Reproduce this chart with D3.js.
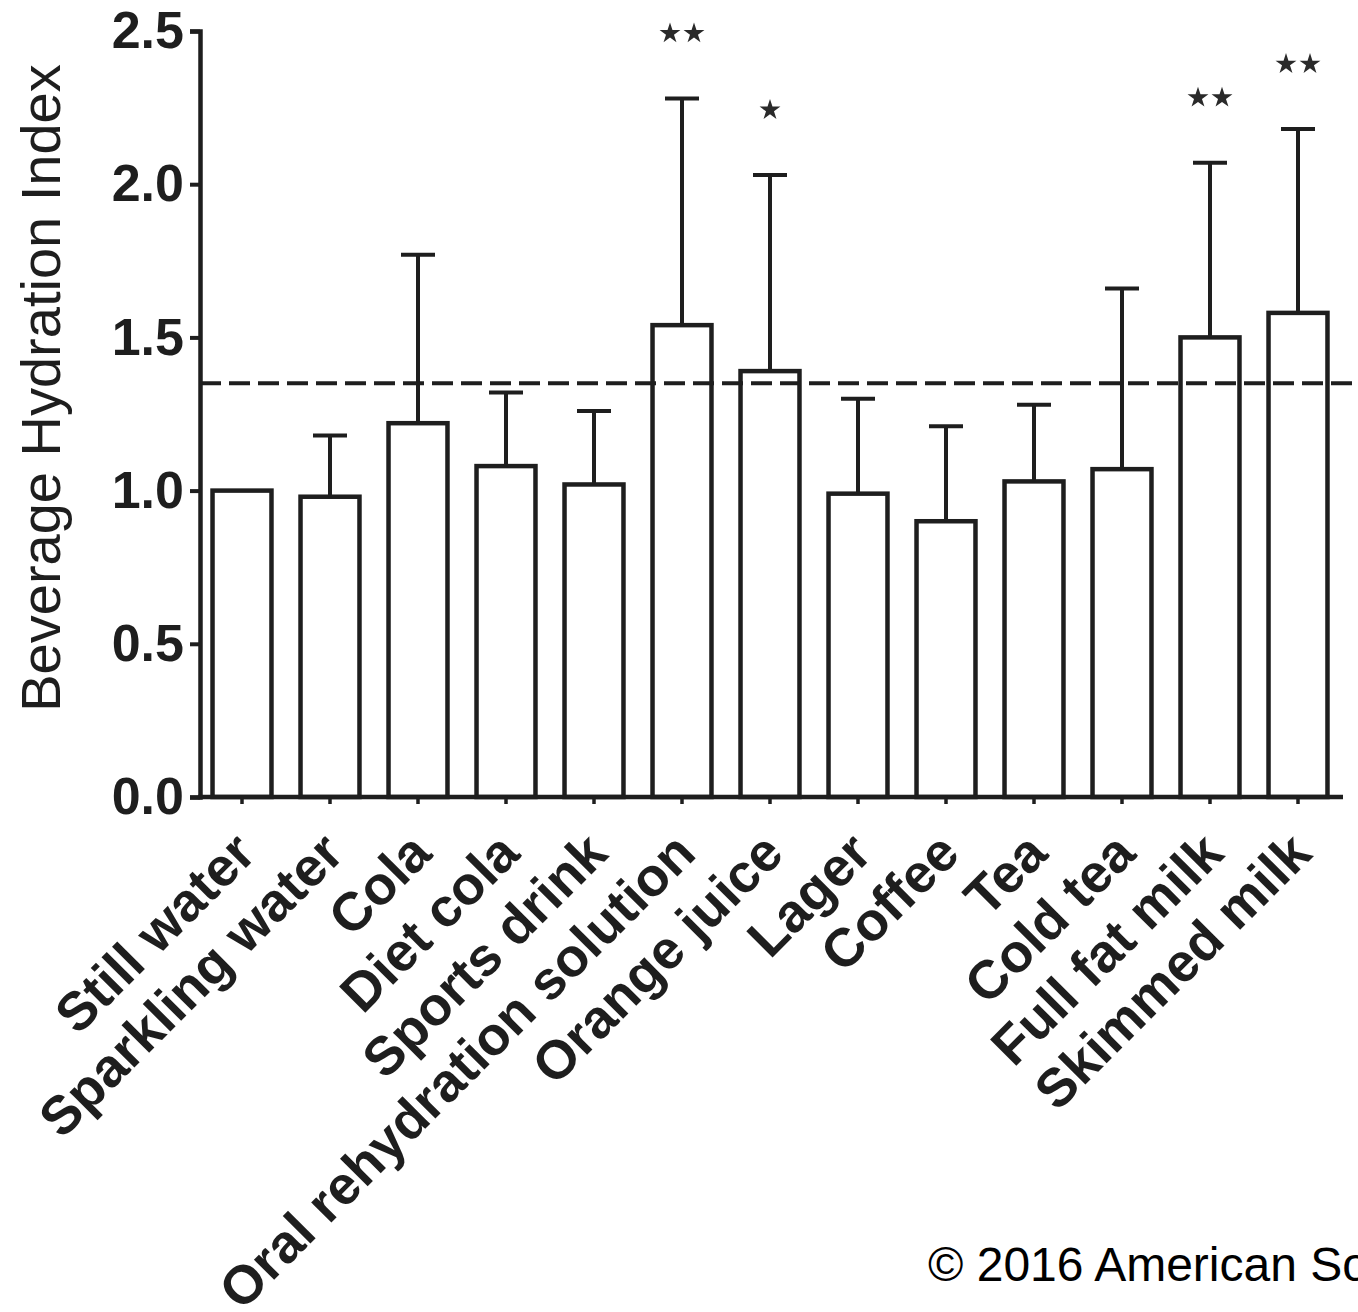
<!DOCTYPE html>
<html>
<head>
<meta charset="utf-8">
<script src="https://cdn.jsdelivr.net/npm/d3@7"></script>
<style>
  body { margin: 0; background: #fff; }
  text { font-family: "Liberation Sans", Arial, sans-serif; }
</style>
</head>
<body>
<div id="chart"></div>
<script>
var beverages = ["Still water", "Sparkling water", "Cola", "Diet cola", "Sports drink",
    "Oral rehydration solution", "Orange juice", "Lager", "Coffee", "Tea",
    "Cold tea", "Full fat milk", "Skimmed milk"];
var means = [1.0, 0.98, 1.22, 1.08, 1.02, 1.54, 1.39, 0.99, 0.90, 1.03, 1.07, 1.50, 1.58];
var upperErr = [null, 1.18, 1.77, 1.32, 1.26, 2.28, 2.03, 1.30, 1.21, 1.28, 1.66, 2.07, 2.18];
var stars = [0, 0, 0, 0, 0, 2, 1, 0, 0, 0, 0, 2, 2];
var yTicks = [0, 0.5, 1.0, 1.5, 2.0, 2.5];
var referenceLine = 1.35;

function init() {
    var w = 1358;
    var h = 1312;

    var svg = d3.select("#chart")
                .append("svg")
                .attr("width", w)
                .attr("height", h);

    var x = d3.scaleBand()
              .domain(beverages)
              .range([198, 1342])
              .paddingInner(0.33)
              .paddingOuter(0.165);

    var y = d3.scaleLinear()
              .domain([0, 2.5])
              .range([797, 31]);

    var ink = "#1e1e1e";
    var cx = function(d) { return x(d) + x.bandwidth() / 2; };

    // bars
    svg.selectAll("rect.bar")
       .data(beverages)
       .enter()
       .append("rect")
       .attr("class", "bar")
       .attr("x", function(d) { return x(d); })
       .attr("y", function(d, i) { return y(means[i]); })
       .attr("width", x.bandwidth())
       .attr("height", function(d, i) { return y(0) - y(means[i]); })
       .attr("fill", "#fff")
       .attr("stroke", ink)
       .attr("stroke-width", 4.5);

    // error bars (upper only)
    var errs = svg.selectAll("g.err")
                  .data(beverages.filter(function(d, i) { return upperErr[i] != null; }))
                  .enter()
                  .append("g")
                  .attr("class", "err");
    errs.append("line")
        .attr("x1", cx)
        .attr("x2", cx)
        .attr("y1", function(d) { return y(means[beverages.indexOf(d)]); })
        .attr("y2", function(d) { return y(upperErr[beverages.indexOf(d)]); })
        .attr("stroke", ink)
        .attr("stroke-width", 4);
    errs.append("line")
        .attr("x1", function(d) { return cx(d) - 17; })
        .attr("x2", function(d) { return cx(d) + 17; })
        .attr("y1", function(d) { return y(upperErr[beverages.indexOf(d)]); })
        .attr("y2", function(d) { return y(upperErr[beverages.indexOf(d)]); })
        .attr("stroke", ink)
        .attr("stroke-width", 4);

    // significance stars
    var starPts = [];
    beverages.forEach(function(d, i) {
        for (var k = 0; k < stars[i]; k++) {
            starPts.push({ x: cx(d) + (k - (stars[i] - 1) / 2) * 24, y: y(upperErr[i]) - 65 });
        }
    });
    svg.selectAll("path.star")
       .data(starPts)
       .enter()
       .append("path")
       .attr("class", "star")
       .attr("d", d3.symbol().type(d3.symbolStar).size(135))
       .attr("transform", function(p) { return "translate(" + p.x + "," + p.y + ")"; })
       .attr("fill", "#2a2a2a");

    // dashed reference line
    svg.append("line")
       .attr("x1", 200)
       .attr("x2", w)
       .attr("y1", y(referenceLine))
       .attr("y2", y(referenceLine))
       .attr("stroke", ink)
       .attr("stroke-width", 4)
       .attr("stroke-dasharray", "21 8");

    // y axis
    var yAxis = svg.append("g")
                   .attr("transform", "translate(200,0)")
                   .call(d3.axisLeft(y).tickValues(yTicks).tickSize(10).tickPadding(6)
                           .tickFormat(d3.format(".1f")));
    yAxis.select(".domain").attr("stroke", ink).attr("stroke-width", 4.5);
    yAxis.selectAll(".tick line").attr("stroke", ink).attr("stroke-width", 4);
    yAxis.selectAll(".tick text")
         .attr("font-size", 52)
         .attr("font-weight", "bold")
         .attr("fill", ink)
         .attr("font-family", "Liberation Sans, Arial, sans-serif");

    // x axis
    var xAxis = svg.append("g")
                   .attr("transform", "translate(0,797)")
                   .call(d3.axisBottom(x).tickSize(7).tickSizeOuter(0).tickFormat(""));
    xAxis.select(".domain").attr("stroke", ink).attr("stroke-width", 4.5)
         .attr("d", "M198,0H1343");
    xAxis.selectAll(".tick line").attr("stroke", ink).attr("stroke-width", 3.5);

    svg.append("g")
       .selectAll("text.xlab")
       .data(beverages)
       .enter()
       .append("text")
       .attr("class", "xlab")
       .attr("transform", function(d) {
           return "translate(" + (cx(d) + 16) + ",856) rotate(-45)";
       })
       .attr("text-anchor", "end")
       .attr("font-size", 54)
       .attr("font-weight", "bold")
       .attr("fill", ink)
       .text(function(d) { return d; });

    // y axis title
    svg.append("text")
       .attr("transform", "translate(60,388) rotate(-90)")
       .attr("text-anchor", "middle")
       .attr("font-size", 56)
       .attr("fill", ink)
       .text("Beverage Hydration Index");

    // copyright
    svg.append("text")
       .attr("x", 928)
       .attr("y", 1281)
       .attr("font-size", 48)
       .attr("fill", "#000")
       .text("\u00a9 2016 American Society for Nutrition");
}
window.onload = init;
</script>
</body>
</html>
